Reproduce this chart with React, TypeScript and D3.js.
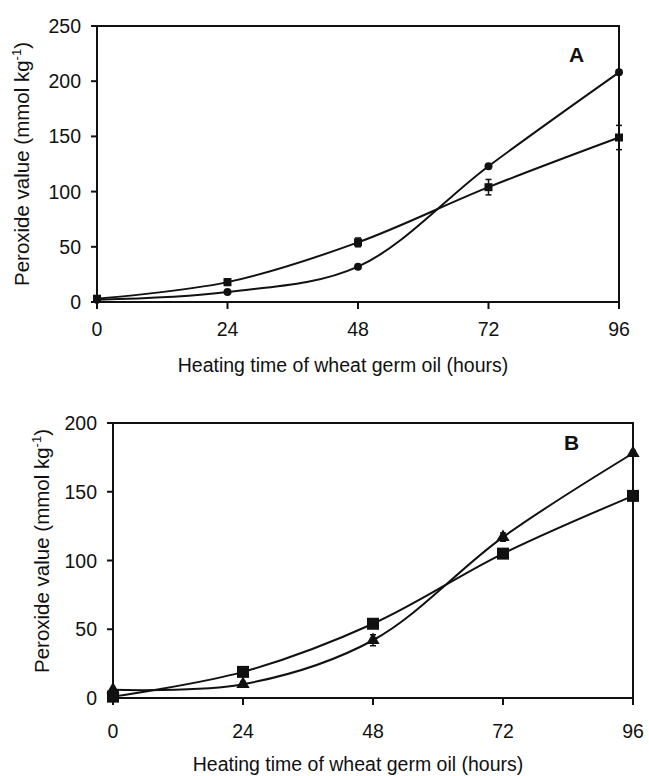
import React from "react";
import * as d3 from "d3";

const hours = [0, 24, 48, 72, 96];
const xTicks = [0, 24, 48, 72, 96];

const aCircle = [2, 9, 32, 123, 208];
const aSquare = [3, 18, 54, 104, 149];
const aSquareErr = [1, 3, 4, 7, 11];
const aTicks = [0, 50, 100, 150, 200, 250];

const bTriangle = [6, 10, 42, 117, 178];
const bTriangleErr = [0, 2, 4, 3, 2];
const bSquare = [1, 19, 54, 105, 147];
const bTicks = [0, 50, 100, 150, 200];

const FONT = "'Liberation Sans', Arial, sans-serif";

type Series = { values: number[]; err?: number[]; marker: "circle" | "square" | "triangle"; size: number };

function Panel(props: {
  left: number; right: number; top: number; bottom: number; yMax: number; yTicks: number[];
  series: Series[]; label: string; labelX: number; labelY: number;
  yLabelX: number; yLabelY: number; titleY: number; tickLabelY: number; titleX: number; yTickLabelX: number;
}) {
  const { left, right, top, bottom, yMax, yTicks, series, label } = props;
  const x = d3.scaleLinear().domain([0, 96]).range([left, right]);
  const y = d3.scaleLinear().domain([0, yMax]).range([bottom, top]);
  const line = d3.line<number>().x((_, i) => x(hours[i])).y((v) => y(v)).curve(d3.curveCatmullRom.alpha(0.5));
  const sym = (m: string, s: number) => {
    if (m === "circle") return d3.symbol(d3.symbolCircle, s * s * Math.PI / 4)();
    if (m === "square") return d3.symbol(d3.symbolSquare, s * s)();
    return d3.symbol(d3.symbolTriangle, s * s * 0.45)();
  };
  return (
    <g>
      <rect x={left} y={top} width={right - left} height={bottom - top} fill="none" stroke="#111" strokeWidth={2} />
      {xTicks.map((t) => (
        <g key={"x" + t}>
          <line x1={x(t)} x2={x(t)} y1={bottom} y2={bottom + 7} stroke="#111" strokeWidth={2} />
          <text x={x(t)} y={props.tickLabelY} textAnchor="middle" fontSize={19.5} fontFamily={FONT} fill="#111">{t}</text>
        </g>
      ))}
      {yTicks.map((t) => (
        <g key={"y" + t}>
          <line x1={left - 6} x2={left} y1={y(t)} y2={y(t)} stroke="#111" strokeWidth={2} />
          <text x={props.yTickLabelX} y={y(t) + 7} textAnchor="end" fontSize={19.5} fontFamily={FONT} fill="#111">{t}</text>
        </g>
      ))}
      {series.map((s, si) => (
        <g key={"s" + si}>
          <path d={line(s.values) || ""} fill="none" stroke="#111" strokeWidth={2} />
          {s.err && s.values.map((v, i) => s.err![i] > 0 ? (
            <g key={"e" + i}>
              <line x1={x(hours[i])} x2={x(hours[i])} y1={y(v - s.err![i])} y2={y(v + s.err![i])} stroke="#111" strokeWidth={1.5} />
              <line x1={x(hours[i]) - 3} x2={x(hours[i]) + 3} y1={y(v - s.err![i])} y2={y(v - s.err![i])} stroke="#111" strokeWidth={1.5} />
              <line x1={x(hours[i]) - 3} x2={x(hours[i]) + 3} y1={y(v + s.err![i])} y2={y(v + s.err![i])} stroke="#111" strokeWidth={1.5} />
            </g>
          ) : null)}
          {s.values.map((v, i) => (
            <path key={"m" + i} d={sym(s.marker, s.size) || ""} transform={`translate(${x(hours[i])},${y(v)})`} fill="#111" />
          ))}
        </g>
      ))}
      <text x={props.labelX} y={props.labelY} fontSize={21} fontWeight="bold" fontFamily={FONT} fill="#111">{label}</text>
      <text transform={`translate(${props.yLabelX},${props.yLabelY}) rotate(-90)`} textAnchor="middle" fontSize={20.5} fontFamily={FONT} fill="#111">
        Peroxide value (mmol kg<tspan dy={-8} fontSize={13}>-1</tspan><tspan dy={8}>)</tspan>
      </text>
      <text x={props.titleX} y={props.titleY} textAnchor="middle" fontSize={19.5} fontFamily={FONT} fill="#111">Heating time of wheat germ oil (hours)</text>
    </g>
  );
}

export default function App() {
  return (
    <svg width={649} height={776} style={{ position: "absolute", left: 0, top: 0, background: "#fff" }}>
      <rect width={649} height={776} fill="#fff" />
      <Panel left={97} right={619} top={26} bottom={302} yMax={250} yTicks={aTicks}
        series={[
          { values: aCircle, marker: "circle", size: 8 },
          { values: aSquare, err: aSquareErr, marker: "square", size: 8 },
        ]}
        label="A" labelX={569} labelY={62} yLabelX={29} yLabelY={164} titleY={372} tickLabelY={336} titleX={343} yTickLabelX={81} />
      <Panel left={113} right={633} top={423} bottom={698} yMax={200} yTicks={bTicks}
        series={[
          { values: bTriangle, err: bTriangleErr, marker: "triangle", size: 13 },
          { values: bSquare, marker: "square", size: 12 },
        ]}
        label="B" labelX={564} labelY={450} yLabelX={49} yLabelY={551} titleY={771} tickLabelY={738} titleX={358} yTickLabelX={97} />
    </svg>
  );
}
